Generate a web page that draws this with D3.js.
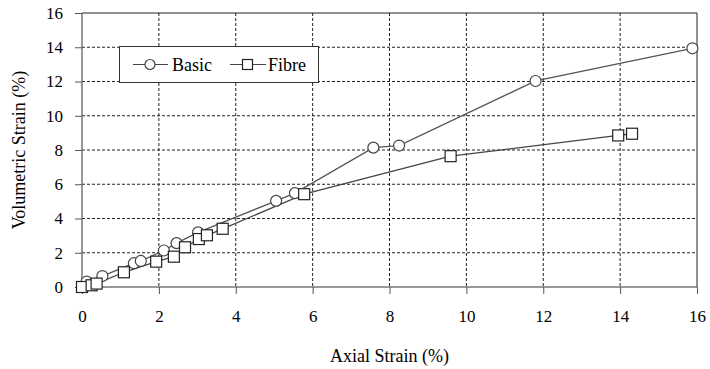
<!DOCTYPE html>
<html><head><meta charset="utf-8">
<script src="https://cdn.jsdelivr.net/npm/d3@7"></script>
<style>body{margin:0;background:#fff}svg{display:block}text{font-family:"Liberation Serif","Times New Roman",serif;fill:#000}</style>
</head><body><svg id="c" width="710" height="369"></svg>
<script>
const basicX = [0, 0.12, 0.53, 1.35, 1.53, 2.13, 2.46, 3.02, 5.05, 5.54, 7.58, 8.25, 11.80, 15.88];
const basicY = [0, 0.31, 0.64, 1.39, 1.52, 2.13, 2.56, 3.19, 5.03, 5.48, 8.14, 8.26, 12.03, 13.94];
const fibreX = [0, 0.25, 0.38, 1.09, 1.93, 2.39, 2.68, 3.04, 3.25, 3.66, 5.78, 9.59, 13.95, 14.31];
const fibreY = [0, 0.10, 0.20, 0.86, 1.48, 1.77, 2.32, 2.80, 3.02, 3.40, 5.42, 7.64, 8.85, 8.95];
const xTicks = [0, 2, 4, 6, 8, 10, 12, 14, 16];
const yTicks = [0, 2, 4, 6, 8, 10, 12, 14, 16];
const seriesNames = ["Basic", "Fibre"];

const svg = d3.select("#c");
const L = 82, R = 697, T = 13, B = 287;
const x = d3.scaleLinear().domain([0, 16]).range([L, R]);
const y = d3.scaleLinear().domain([0, 16]).range([B, T]);

// grid
const g = svg.append("g");
g.selectAll(".gx").data(xTicks.filter(v => v > 0 && v < 16)).enter().append("line")
  .attr("x1", d => x(d)).attr("x2", d => x(d)).attr("y1", T).attr("y2", B)
  .attr("stroke", "#222").attr("stroke-width", 1).attr("stroke-dasharray", "3,2");
g.selectAll(".gy").data(yTicks.filter(v => v > 0 && v < 16)).enter().append("line")
  .attr("y1", d => y(d)).attr("y2", d => y(d)).attr("x1", L).attr("x2", R)
  .attr("stroke", "#222").attr("stroke-width", 1).attr("stroke-dasharray", "3,2");

// top/right border
svg.append("path").attr("d", `M${L},${T}H${R}V${B}`).attr("fill", "none").attr("stroke", "#222").attr("stroke-width", 1);

// axes
const xAxis = svg.append("g").attr("transform", `translate(0,${B})`)
  .call(d3.axisBottom(x).tickValues(xTicks).tickSize(7).tickPadding(16).tickFormat(d3.format("d")));
const yAxis = svg.append("g").attr("transform", `translate(${L},0)`)
  .call(d3.axisLeft(y).tickValues(yTicks).tickSize(7).tickPadding(12).tickFormat(d3.format("d")));
[xAxis, yAxis].forEach(a => {
  a.select(".domain").attr("stroke", "#777").attr("stroke-width", 1.5);
  a.selectAll(".tick line").attr("stroke", "#555");
  a.selectAll("text").style("font-family", '"Liberation Serif",serif').style("font-size", "17px").attr("fill", "#000");
});
// fix domain path to exclude outer tick
xAxis.select(".domain").attr("d", `M${L},0H${R}`);
yAxis.select(".domain").attr("d", `M0,${B}V${T}`);

// titles
svg.append("text").attr("x", (L + R) / 2).attr("y", 362).attr("text-anchor", "middle")
  .style("font-size", "18px").text("Axial Strain (%)");
svg.append("text").attr("transform", `translate(25,${(T + B) / 2}) rotate(-90)`).attr("text-anchor", "middle")
  .style("font-size", "18px").text("Volumetric Strain (%)");

const line = d3.line().x(d => x(d[0])).y(d => y(d[1]));
const basic = basicX.map((v, i) => [v, basicY[i]]);
const fibre = fibreX.map((v, i) => [v, fibreY[i]]);

svg.append("path").datum(basic).attr("d", line).attr("fill", "none").attr("stroke", "#555").attr("stroke-width", 1.3);
svg.append("path").datum(fibre).attr("d", line).attr("fill", "none").attr("stroke", "#444").attr("stroke-width", 1.3);

svg.append("g").selectAll("circle").data(basic).enter().append("circle")
  .attr("cx", d => x(d[0])).attr("cy", d => y(d[1])).attr("r", 5.5)
  .attr("fill", "#fff").attr("stroke", "#444").attr("stroke-width", 1.2);
const s = 11;
svg.append("g").selectAll("rect").data(fibre).enter().append("rect")
  .attr("x", d => x(d[0]) - s / 2).attr("y", d => y(d[1]) - s / 2).attr("width", s).attr("height", s)
  .attr("fill", "#fff").attr("stroke", "#222").attr("stroke-width", 1.2);

// legend
const lg = svg.append("g");
lg.append("rect").attr("x", 119.5).attr("y", 46.5).attr("width", 199).attr("height", 36)
  .attr("fill", "#fff").attr("stroke", "#333").attr("stroke-width", 1);
const ly = 64.5;
lg.append("line").attr("x1", 133).attr("x2", 168).attr("y1", ly).attr("y2", ly).attr("stroke", "#444").attr("stroke-width", 1.2);
lg.append("circle").attr("cx", 150).attr("cy", ly).attr("r", 5).attr("fill", "#fff").attr("stroke", "#444").attr("stroke-width", 1.2);
lg.append("text").attr("x", 172).attr("y", ly + 6).style("font-size", "18px").text(seriesNames[0]);
lg.append("line").attr("x1", 230).attr("x2", 266).attr("y1", ly).attr("y2", ly).attr("stroke", "#444").attr("stroke-width", 1.2);
lg.append("rect").attr("x", 242.5).attr("y", ly - 5).attr("width", 10).attr("height", 10).attr("fill", "#fff").attr("stroke", "#222").attr("stroke-width", 1.2);
lg.append("text").attr("x", 268).attr("y", ly + 6).style("font-size", "18px").text(seriesNames[1]);
</script></body></html>
